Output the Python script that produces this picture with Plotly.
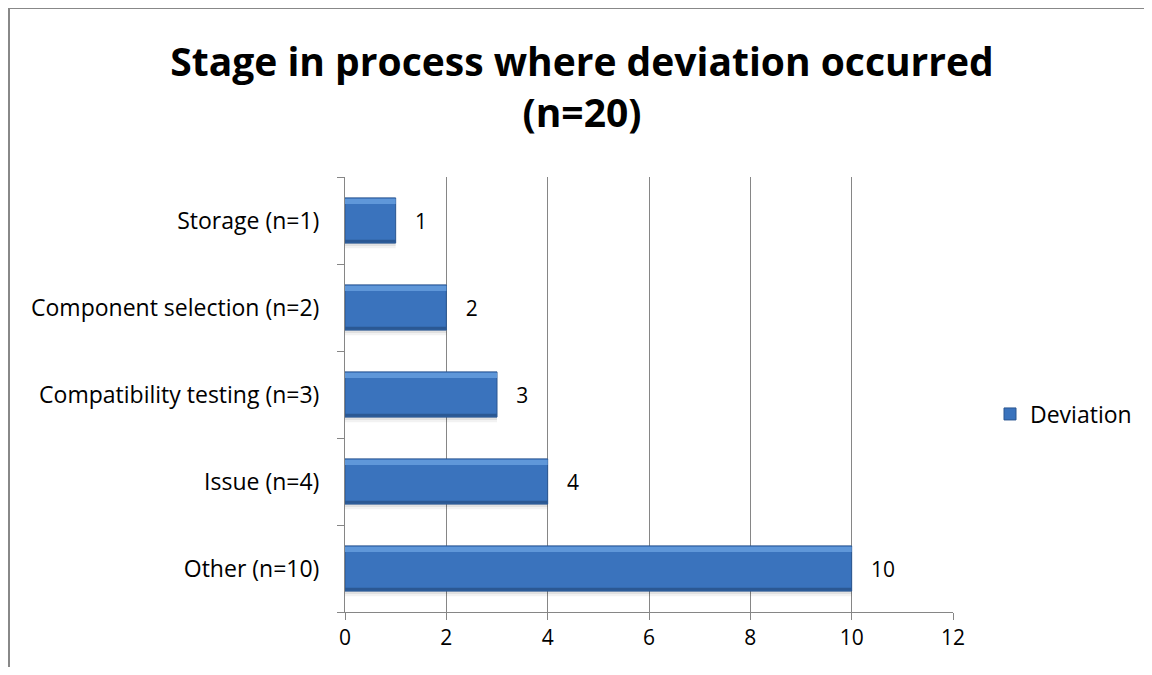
import plotly.graph_objects as go

# categories listed bottom to top
categories = ["Other (n=10)", "Issue (n=4)", "Compatibility testing (n=3)",
              "Component selection (n=2)", "Storage (n=1)"]
deviation = [10, 4, 3, 2, 1]
x_ticks = [0, 2, 4, 6, 8, 10, 12]

FONT = "Open Sans"
GRID = "#868686"

# the page body has an 8px margin, so figure px = screen px - 8;
# keep the figure small enough that the page does not scroll
OFF = 8
W, H = 1152 - OFF, 675 - 2 * OFF
ML = 345 - OFF
MR = W - (953 - OFF)
MT = 177 - OFF
MB = H - (612 - OFF)
PW, PH = W - ML - MR, H - MT - MB


def px_to_paper(px, py):
    # screen pixels -> paper coordinates
    return (px - OFF - ML) / PW, (H - MB - (py - OFF)) / PH


fig = go.Figure()

# soft shadow under each bar
fig.add_trace(go.Bar(
    y=categories, x=deviation, orientation="h",
    width=0.04, offset=-0.29,
    marker=dict(color="rgba(0,0,0,0.10)", line=dict(width=0)),
    showlegend=False, hoverinfo="skip",
))
fig.add_trace(go.Bar(
    y=categories, x=deviation, orientation="h",
    width=0.04, offset=-0.32,
    marker=dict(color="rgba(0,0,0,0.05)", line=dict(width=0)),
    showlegend=False, hoverinfo="skip",
))

# main bar
fig.add_trace(go.Bar(
    y=categories, x=deviation, orientation="h",
    width=0.52, offset=-0.26,
    name="Deviation",
    marker=dict(color="#3A73BD", line=dict(color="#2A5690", width=1)),
    text=["\u00a0\u00a0\u00a0" + str(v) for v in deviation],
    textposition="outside",
    textfont=dict(family=FONT, size=21, color="#000000"),
    cliponaxis=False,
))

# bevel: light strip on top, dark strip at bottom
fig.add_trace(go.Bar(
    y=categories, x=deviation, orientation="h",
    width=0.06, offset=0.19,
    marker=dict(color="#5F97D9", line=dict(width=0)),
    showlegend=False, hoverinfo="skip",
))
fig.add_trace(go.Bar(
    y=categories, x=deviation, orientation="h",
    width=0.035, offset=-0.255,
    marker=dict(color="#2B5893", line=dict(width=0)),
    showlegend=False, hoverinfo="skip",
))

# outer chart border: only the top and left edges are in view
bx0, by0 = px_to_paper(9, 8)
bx1, by1 = px_to_paper(1152, 675)
border = dict(color="#888888", width=2)
fig.add_shape(type="line", xref="paper", yref="paper",
              x0=bx0, y0=by0, x1=bx1, y1=by0, line=border, layer="below")
fig.add_shape(type="line", xref="paper", yref="paper",
              x0=bx0, y0=by0, x1=bx0, y1=by1, line=border, layer="below")

fig.update_layout(
    width=W, height=H,
    margin=dict(l=ML, r=MR, t=MT, b=MB),
    paper_bgcolor="white", plot_bgcolor="white",
    barmode="overlay",
    font=dict(family=FONT, size=22, color="#000000"),
    title=dict(
        text="<b>Stage in process where deviation occurred<br>(n=20)</b>",
        x=(582 - OFF) / W, xanchor="center",
        y=1 - (76 - OFF) / H, yanchor="top",
        font=dict(family=FONT, size=39, color="#000000"),
    ),
    legend=dict(
        x=px_to_paper(990, 0)[0], y=px_to_paper(0, 414)[1],
        xanchor="left", yanchor="middle",
        font=dict(family=FONT, size=23),
        bgcolor="rgba(0,0,0,0)",
        itemwidth=30,
    ),
    xaxis=dict(
        range=[0, 12], tickvals=x_ticks,
        showgrid=True, gridcolor=GRID, gridwidth=1,
        showline=True, linecolor=GRID, linewidth=1,
        ticks="outside", ticklen=7, tickcolor=GRID,
        zeroline=False, tickfont=dict(size=21),
    ),
    yaxis=dict(
        type="category", categoryorder="array", categoryarray=categories,
        showline=True, linecolor=GRID, linewidth=1,
        ticks="outside", ticklen=7, tickcolor=GRID, tickson="boundaries",
        ticklabelstandoff=20,
        showgrid=False, tickfont=dict(size=23),
    ),
)

fig.write_html("out.html")
